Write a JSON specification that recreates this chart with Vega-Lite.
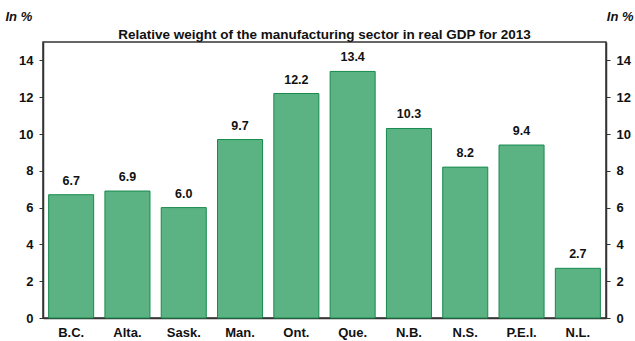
{
  "$schema": "https://vega.github.io/schema/vega-lite/v6.json",
  "width": 563,
  "height": 276,
  "autosize": {"type": "none"},
  "padding": {"left": 43, "top": 42, "right": 29, "bottom": 23},
  "background": "white",
  "config": {
    "font": "Liberation Sans",
    "view": {"stroke": "#333333", "strokeWidth": 1.5},
    "axis": {"domainColor": "#333333", "tickColor": "#333333", "labelFont": "Liberation Sans", "labelFontWeight": "bold", "labelColor": "#111111", "grid": false}
  },
  "data": {"values": [
    {"prov": "B.C.", "v": 6.7},
    {"prov": "Alta.", "v": 6.9},
    {"prov": "Sask.", "v": 6.0},
    {"prov": "Man.", "v": 9.7},
    {"prov": "Ont.", "v": 12.2},
    {"prov": "Que.", "v": 13.4},
    {"prov": "N.B.", "v": 10.3},
    {"prov": "N.S.", "v": 8.2},
    {"prov": "P.E.I.", "v": 9.4},
    {"prov": "N.L.", "v": 2.7}
  ]},
  "title": {
    "text": "Relative weight of the manufacturing sector in real GDP for 2013",
    "fontSize": 13.5, "fontWeight": "bold", "color": "#111111", "offset": 5, "dy": 36, "font": "Liberation Sans"
  },
  "encoding": {
    "x": {"field": "prov", "type": "nominal", "sort": null,
      "scale": {"paddingInner": 0.2, "paddingOuter": 0.1},
      "axis": {"title": null, "labelAngle": 0, "ticks": false, "labelFontSize": 13, "labelPadding": 8, "domainWidth": 1.5}}
  },
  "layer": [
    {
      "mark": {"type": "bar", "fill": "#5bb383", "stroke": "#178a4c", "strokeWidth": 1},
      "encoding": {
        "y": {"field": "v", "type": "quantitative", "scale": {"domain": [0, 15], "nice": false},
          "axis": {"orient": "left", "values": [0, 2, 4, 6, 8, 10, 12, 14], "tickSize": 4, "labelFontSize": 13, "labelPadding": 6, "domainWidth": 1.5,
            "title": "In %", "titleAngle": 0, "titleFontStyle": "italic", "titleFontWeight": "bold", "titleFontSize": 13, "titleAlign": "left", "titleBaseline": "alphabetic", "titleX": -38, "titleY": -22, "titleColor": "#111111"}}
      }
    },
    {
      "mark": {"type": "text", "dy": -7, "fontWeight": "bold", "fontSize": 12.5, "color": "#111111", "baseline": "bottom"},
      "encoding": {
        "y": {"field": "v", "type": "quantitative", "scale": {"domain": [0, 15], "nice": false},
          "axis": {"orient": "right", "values": [0, 2, 4, 6, 8, 10, 12, 14], "tickSize": 4, "labelFontSize": 13, "labelPadding": 6, "domainWidth": 1.5,
            "title": "In %", "titleAngle": 0, "titleFontStyle": "italic", "titleFontWeight": "bold", "titleFontSize": 13, "titleAlign": "right", "titleBaseline": "alphabetic", "titleX": 27, "titleY": -22, "titleColor": "#111111"}},
        "text": {"field": "v", "type": "quantitative", "format": ".1f"}
      }
    }
  ],
  "resolve": {"axis": {"y": "independent"}}
}
